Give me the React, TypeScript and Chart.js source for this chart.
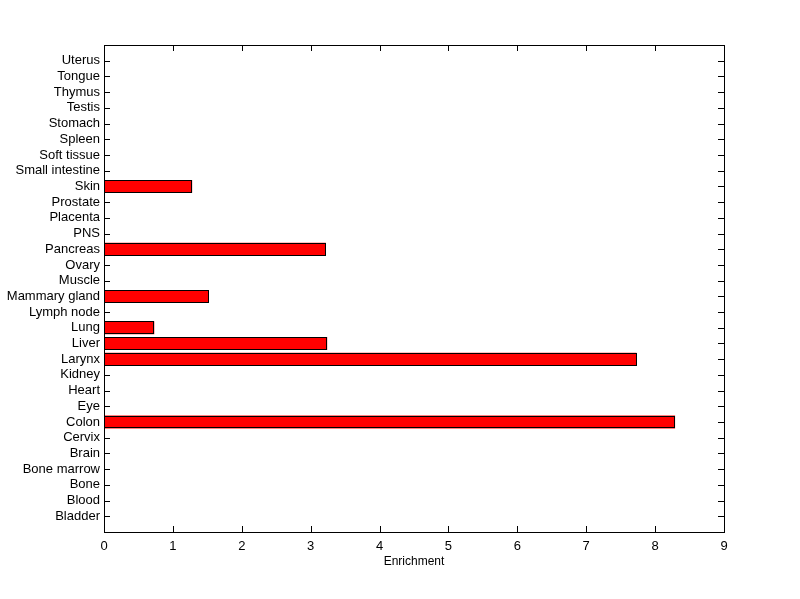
import React, { useEffect, useRef } from "react";
import { Chart, registerables } from "chart.js";

Chart.register(...registerables);

const categories = [
  "Bladder", "Blood", "Bone", "Bone marrow", "Brain", "Cervix", "Colon", "Eye",
  "Heart", "Kidney", "Larynx", "Liver", "Lung", "Lymph node", "Mammary gland",
  "Muscle", "Ovary", "Pancreas", "PNS", "Placenta", "Prostate", "Skin",
  "Small intestine", "Soft tissue", "Spleen", "Stomach", "Testis", "Thymus",
  "Tongue", "Uterus",
];

const enrichment = [
  0, 0, 0, 0, 0, 0, 8.29, 0,
  0, 0, 7.73, 3.24, 0.73, 0, 1.52,
  0, 0, 3.22, 0, 0, 0, 1.28,
  0, 0, 0, 0, 0, 0,
  0, 0,
];

const xTicks = [0, 1, 2, 3, 4, 5, 6, 7, 8, 9];

const FONT = "'Liberation Sans', Arial, sans-serif";

// Re-draws each bar element (geometry from Chart.js) with crisp pixel edges.
const crispBars = {
  id: "crispBars",
  afterDatasetsDraw(chart: any) {
    const { ctx } = chart;
    const meta = chart.getDatasetMeta(0);
    ctx.save();
    meta.data.forEach((el: any, i: number) => {
      if (!enrichment[i]) return;
      const { x, y, base, height } = el.getProps(["x", "y", "base", "height"], true);
      const x0 = Math.round(Math.min(x, base));
      const x1 = Math.round(Math.max(x, base));
      const y0 = Math.round(y - height / 2);
      const y1 = Math.round(y + height / 2);
      ctx.fillStyle = "#ff0000";
      ctx.fillRect(x0, y0, x1 - x0, y1 - y0);
      ctx.strokeStyle = "#000";
      ctx.lineWidth = 1;
      ctx.strokeRect(x0 + 0.5, y0 + 0.5, x1 - x0 - 1, y1 - y0 - 1);
    });
    ctx.restore();
  },
};

const boxPlugin = {
  id: "matlabBox",
  beforeDatasetsDraw(chart: any) {
    const { ctx, chartArea } = chart;
    const { left, right, top, bottom } = chartArea;
    const xs = chart.scales.x;
    const ys = chart.scales.y;
    const L = 6;
    ctx.save();
    ctx.strokeStyle = "#000";
    ctx.lineWidth = 1;
    ctx.beginPath();
    for (let i = 0; i < xs.ticks.length; i++) {
      const px = Math.round(xs.getPixelForTick(i)) + 0.5;
      ctx.moveTo(px, bottom);
      ctx.lineTo(px, bottom - L);
      ctx.moveTo(px, top);
      ctx.lineTo(px, top + L);
    }
    for (let i = 0; i < ys.ticks.length; i++) {
      const py = Math.round(ys.getPixelForTick(i)) + 0.5;
      ctx.moveTo(left, py);
      ctx.lineTo(left + L, py);
      ctx.moveTo(right, py);
      ctx.lineTo(right - L, py);
    }
    ctx.stroke();
    ctx.restore();
  },
  afterDraw(chart: any) {
    const { ctx, chartArea } = chart;
    const { left, right, top, bottom } = chartArea;
    ctx.save();
    ctx.strokeStyle = "#000";
    ctx.lineWidth = 1;
    ctx.strokeRect(Math.round(left) + 0.5, Math.round(top) + 0.5, Math.round(right - left), Math.round(bottom - top));
    ctx.restore();
  },
};

export default function App() {
  const ref = useRef<HTMLCanvasElement | null>(null);

  useEffect(() => {
    document.body.style.margin = "0";
    const canvas = ref.current!;
    const points = categories.map((c, i) => ({ x: enrichment[i], y: i + 1 }));
    const chart = new Chart(canvas, {
      type: "bar",
      data: {
        datasets: [
          {
            data: points as any,
            backgroundColor: "#ff0000",
            borderColor: "#000000",
            borderWidth: 0,
            inflateAmount: 0,
            barPercentage: 0.82,
            categoryPercentage: 1,
          },
        ],
      },
      options: {
        indexAxis: "y",
        animation: false,
        responsive: false,
        maintainAspectRatio: false,
        layout: { padding: { left: 0, top: 45, right: 76, bottom: 30 } },
        plugins: {
          legend: { display: false },
          tooltip: { enabled: false },
        },
        scales: {
          x: {
            type: "linear",
            min: 0,
            max: 9,
            afterBuildTicks(scale: any) {
              scale.ticks = xTicks.map((v) => ({ value: v }));
            },
            afterFit(scale: any) {
              scale.height = 37;
            },
            grid: { display: false, drawTicks: false },
            border: { display: false },
            ticks: {
              color: "#000",
              padding: 7,
              font: { family: FONT, size: 13 },
              maxRotation: 0,
            },
            title: {
              display: true,
              text: "Enrichment",
              color: "#000",
              font: { family: FONT, size: 12 },
              padding: { top: 0, bottom: 0 },
            },
          },
          y: {
            type: "linear",
            offset: false,
            min: 0,
            max: categories.length + 1,
            afterBuildTicks(scale: any) {
              scale.ticks = categories.map((_, i) => ({ value: i + 1 }));
            },
            afterFit(scale: any) {
              scale.width = 104;
            },
            grid: { display: false, drawTicks: false, offset: false },
            border: { display: false },
            ticks: {
              color: "#000",
              padding: 4,
              autoSkip: false,
              font: { family: FONT, size: 13 },
              callback: (v: any) => categories[Number(v) - 1] ?? "",
            },
          },
        },
      },
      plugins: [boxPlugin, crispBars],
    });
    return () => chart.destroy();
  }, []);

  return (
    <div style={{ width: 800, height: 599, background: "#fff" }}>
      <canvas ref={ref} width={800} height={599} style={{ display: "block" }} />
    </div>
  );
}
